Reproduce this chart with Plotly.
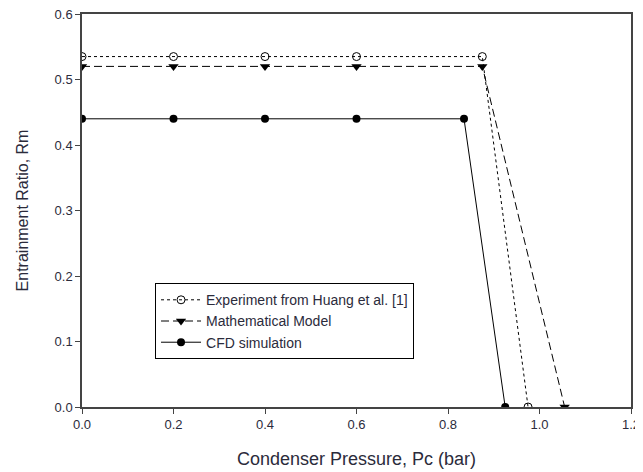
import plotly.graph_objects as go

# data
pc_exp = [0.0, 0.2, 0.4, 0.6, 0.875, 0.975]
rm_exp = [0.535, 0.535, 0.535, 0.535, 0.535, 0.0]

pc_model = [0.0, 0.2, 0.4, 0.6, 0.875, 1.055]
rm_model = [0.52, 0.52, 0.52, 0.52, 0.52, 0.0]

pc_cfd = [0.0, 0.2, 0.4, 0.6, 0.835, 0.925]
rm_cfd = [0.44, 0.44, 0.44, 0.44, 0.44, 0.0]

x_ticks = [0.0, 0.2, 0.4, 0.6, 0.8, 1.0, 1.2]
y_ticks = [0.0, 0.1, 0.2, 0.3, 0.4, 0.5, 0.6]

txt = "#2b2b3b"

fig = go.Figure()
fig.add_trace(go.Scatter(x=pc_exp, y=rm_exp, mode="lines+markers",
                         name="Experiment from Huang et al. [1]",
                         line=dict(color="black", width=1, dash="dot"),
                         marker=dict(symbol="circle-open", size=8, color="black", line=dict(width=1))))
fig.add_trace(go.Scatter(x=pc_model, y=rm_model, mode="lines+markers",
                         name="Mathematical Model",
                         line=dict(color="black", width=1, dash="8px,4px"),
                         marker=dict(symbol="triangle-down", size=9, color="black")))
fig.add_trace(go.Scatter(x=pc_cfd, y=rm_cfd, mode="lines+markers",
                         name="CFD simulation",
                         line=dict(color="black", width=1),
                         marker=dict(symbol="circle", size=8, color="black")))

# the page body adds an 8px offset, so the figure is a bit smaller than the window
fig.update_layout(
    width=635, height=464,
    margin=dict(l=74, r=12, t=6, b=65, autoexpand=False),
    plot_bgcolor="white", paper_bgcolor="white",
    font=dict(family="Liberation Sans, Arial", size=13, color=txt),
    legend=dict(x=0.133, y=0.315, xanchor="left", yanchor="top",
                bordercolor="black", borderwidth=1, bgcolor="white",
                font=dict(size=14, color=txt), tracegroupgap=0,
                itemwidth=40),
)
fig.update_xaxes(range=[0, 1.2], tickvals=x_ticks, ticktext=[f"{v:.1f}" for v in x_ticks],
                 showgrid=False, zeroline=False, showline=True, linecolor="#444", linewidth=1.5,
                 mirror=True, ticks="outside", ticklen=5, tickcolor="#444", automargin=False,
                 ticklabeloverflow="allow",
                 title=dict(text="Condenser Pressure, Pc (bar)", font=dict(size=18, color=txt), standoff=21))
fig.update_yaxes(range=[0, 0.6], tickvals=y_ticks, ticktext=[f"{v:.1f}" for v in y_ticks],
                 showgrid=False, zeroline=False, showline=True, linecolor="#444", linewidth=1.5,
                 mirror=True, ticks="outside", ticklen=5, tickcolor="#444", automargin=False,
                 ticklabeloverflow="allow",
                 title=dict(text="Entrainment Ratio, Rm", font=dict(size=16, color=txt), standoff=22))

fig.write_html("out.html")
